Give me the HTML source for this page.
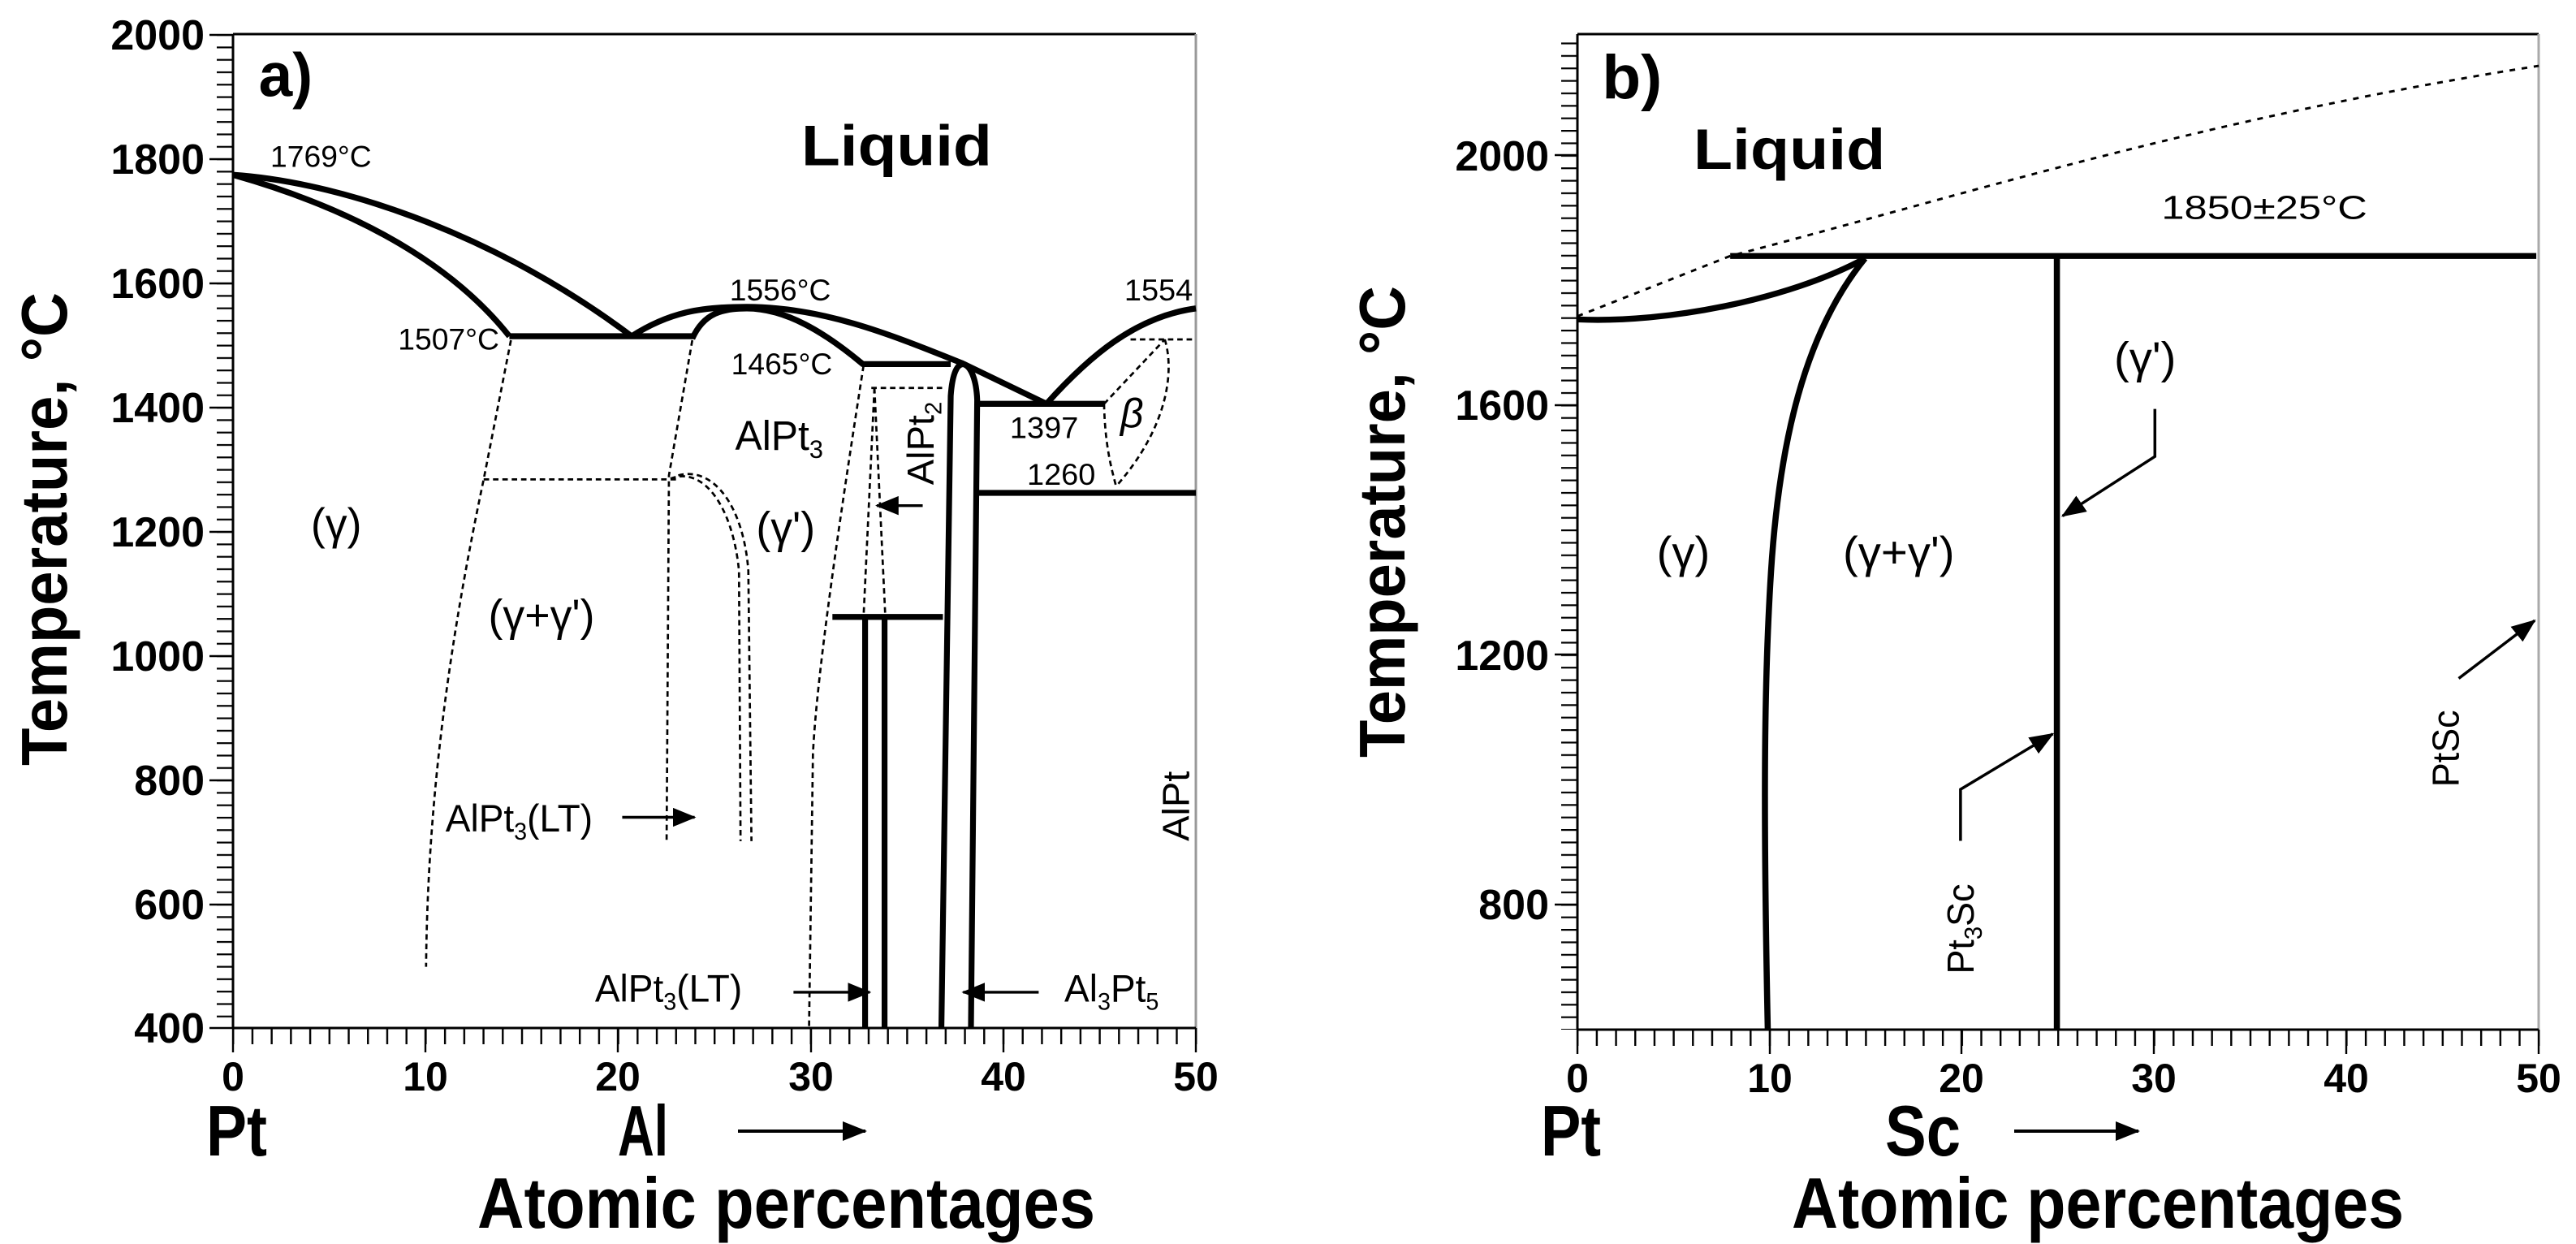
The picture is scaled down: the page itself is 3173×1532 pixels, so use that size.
<!DOCTYPE html>
<html><head><meta charset="utf-8"><style>
html,body{margin:0;padding:0;background:#fff;}
svg{display:block;}
text{font-family:"Liberation Sans",Arial,sans-serif;fill:#000;}
.b{font-weight:bold;}
</style></head><body>
<svg width="3173" height="1532" viewBox="0 0 3173 1532" xmlns="http://www.w3.org/2000/svg">
<defs>
<pattern id="ya" patternUnits="userSpaceOnUse" x="0" y="42" width="40" height="15.3"><rect x="0" y="0" width="40" height="2.2" fill="#000"/></pattern>
<pattern id="xa" patternUnits="userSpaceOnUse" x="286" y="0" width="23.72" height="40"><rect x="0" y="0" width="2.4" height="40" fill="#000"/></pattern>
<pattern id="yb" patternUnits="userSpaceOnUse" x="0" y="1267" width="40" height="15.375"><rect x="0" y="0" width="40" height="2.2" fill="#000"/></pattern>
<pattern id="xb" patternUnits="userSpaceOnUse" x="1942" y="0" width="23.68" height="40"><rect x="0" y="0" width="2.4" height="40" fill="#000"/></pattern>
<marker id="ah" markerUnits="userSpaceOnUse" markerWidth="30" markerHeight="24" refX="28" refY="12" orient="auto"><path d="M0,0 L30,12 L0,24 Z" fill="#000"/></marker>
</defs>

<rect x="267" y="42" width="20" height="1224" fill="url(#ya)"/>
<g stroke="#000" stroke-width="2.4">
<line x1="258" y1="43" x2="287" y2="43"/><line x1="258" y1="196" x2="287" y2="196"/><line x1="258" y1="349" x2="287" y2="349"/><line x1="258" y1="502" x2="287" y2="502"/><line x1="258" y1="655" x2="287" y2="655"/><line x1="258" y1="808" x2="287" y2="808"/><line x1="258" y1="961" x2="287" y2="961"/><line x1="258" y1="1114" x2="287" y2="1114"/><line x1="258" y1="1266" x2="287" y2="1266"/>
</g>
<rect x="287" y="1266" width="1188" height="20" fill="url(#xa)"/>
<g stroke="#000" stroke-width="2.4">
<line x1="287" y1="1266" x2="287" y2="1296"/><line x1="524" y1="1266" x2="524" y2="1296"/><line x1="761" y1="1266" x2="761" y2="1296"/><line x1="999" y1="1266" x2="999" y2="1296"/><line x1="1236" y1="1266" x2="1236" y2="1296"/><line x1="1473" y1="1266" x2="1473" y2="1296"/>
</g>
<line x1="287" y1="42" x2="1473" y2="42" stroke="#000" stroke-width="3"/>
<line x1="1473" y1="42" x2="1473" y2="1266" stroke="#999" stroke-width="3"/>
<line x1="287" y1="42" x2="287" y2="1266" stroke="#000" stroke-width="3"/>
<line x1="287" y1="1266" x2="1473" y2="1266" stroke="#000" stroke-width="3"/>
<g class="b" font-size="52" text-anchor="end">
<text x="252" y="61">2000</text><text x="252" y="214">1800</text><text x="252" y="367">1600</text><text x="252" y="520">1400</text><text x="252" y="673">1200</text><text x="252" y="826">1000</text><text x="252" y="979">800</text><text x="252" y="1132">600</text><text x="252" y="1284">400</text>
</g>
<g class="b" font-size="50" text-anchor="middle">
<text x="287" y="1343">0</text><text x="524" y="1343">10</text><text x="761" y="1343">20</text><text x="999" y="1343">30</text><text x="1236" y="1343">40</text><text x="1473" y="1343">50</text>
</g>
<text x="254" y="1423" font-size="88" font-weight="600" textLength="75" lengthAdjust="spacingAndGlyphs">Pt</text>
<text x="761" y="1423" font-size="88" font-weight="600" textLength="62" lengthAdjust="spacingAndGlyphs">Al</text>
<line x1="909" y1="1393" x2="1066" y2="1393" stroke="#000" stroke-width="4" marker-end="url(#ah)"/>
<text class="b" x="588" y="1512" font-size="88" textLength="761" lengthAdjust="spacingAndGlyphs">Atomic percentages</text>
<text class="b" transform="translate(82,943) rotate(-90)" font-size="80" textLength="583" lengthAdjust="spacingAndGlyphs">Temperature, °C</text>

<g transform="matrix(0.9588,0,0,0.9792,-0.6,-2.06)">
<g fill="none" stroke="#000" stroke-width="7.5" stroke-linejoin="round">
<path d="M300,222 C450,232 650,305 812,425"/>
<path d="M300,222 C430,258 570,320 655,425"/>
<path d="M655,425 L892,425"/>
<path d="M812,425 C860,395 900,388 960,388 C1060,388 1150,425 1237,459 L1345,510"/>
<path d="M890,428 C905,395 930,390 960,390 C1010,390 1060,420 1109,460 L1222,460"/>
<path d="M1210,1295 L1222,500 C1224,472 1230,460 1238,460 C1248,462 1255,480 1256,505 L1248,1295"/>
<path d="M1256,510 L1420,510"/>
<path d="M1256,622 L1537,622"/>
<path d="M1345,510 C1400,450 1460,400 1537,390"/>
<path d="M1070,778 L1212,778"/>
<path d="M1112,778 L1112,1295"/>
<path d="M1137,778 L1137,1295"/>
</g>
<g fill="none" stroke="#000" stroke-width="2.8" stroke-dasharray="7,5">
<path d="M657,430 L622,605 C580,800 550,1000 548,1218"/>
<path d="M622,605 L872,605"/>
<path d="M890,430 L860,600 L857,1060"/>
<path d="M862,604 C905,588 942,640 950,720 L952,1060"/>
<path d="M872,600 C918,588 956,640 962,720 L966,1060"/>
<path d="M1110,462 C1080,650 1050,850 1045,950 L1040,1295"/>
<path d="M1120,490 L1212,490"/>
<path d="M1124,490 L1110,778"/>
<path d="M1124,490 L1138,778"/>
<path d="M1419,510 L1497,429"/>
<path d="M1453,429 L1537,429"/>
<path d="M1419,510 C1420,560 1428,590 1434,612"/>
<path d="M1497,429 C1510,470 1500,540 1436,612"/>
</g>
<g stroke="#000" stroke-width="3.5">
<line x1="800" y1="1030" x2="893" y2="1030" marker-end="url(#ah)"/>
<line x1="1020" y1="1250" x2="1118" y2="1250" marker-end="url(#ah)"/>
<line x1="1335" y1="1250" x2="1238" y2="1250" marker-end="url(#ah)"/>
<line x1="1186" y1="638" x2="1127" y2="638" marker-end="url(#ah)"/>
</g>
<text class="b" x="333" y="123" font-size="78">a)</text>
<text class="b" x="1030" y="210" font-size="72" textLength="245" lengthAdjust="spacingAndGlyphs">Liquid</text>
<g font-size="38">
<text x="348" y="212" textLength="130" lengthAdjust="spacingAndGlyphs">1769°C</text>
<text x="938" y="380" textLength="130" lengthAdjust="spacingAndGlyphs">1556°C</text>
<text x="512" y="442" textLength="130" lengthAdjust="spacingAndGlyphs">1507°C</text>
<text x="940" y="473" textLength="130" lengthAdjust="spacingAndGlyphs">1465°C</text>
<text x="1445" y="380" textLength="88" lengthAdjust="spacingAndGlyphs">1554</text>
<text x="1298" y="553" textLength="88" lengthAdjust="spacingAndGlyphs">1397</text>
<text x="1320" y="612" textLength="88" lengthAdjust="spacingAndGlyphs">1260</text>
</g>
<text x="945" y="568" font-size="52">AlPt<tspan font-size="32" dy="10">3</tspan></text>
<text transform="translate(1200,612) rotate(-90)" font-size="48">AlPt<tspan font-size="30" dy="10">2</tspan></text>
<text x="400" y="680" font-size="56">(γ)</text>
<text x="972" y="685" font-size="56">(γ')</text>
<text x="628" y="795" font-size="56">(γ+γ')</text>
<text x="1440" y="540" font-size="52" font-style="italic">β</text>
<text transform="translate(1528,1060) rotate(-90)" font-size="48">AlPt</text>
<text x="573" y="1048" font-size="48">AlPt<tspan font-size="30" dy="10">3</tspan><tspan dy="-10">(LT)</tspan></text>
<text x="765" y="1262" font-size="48">AlPt<tspan font-size="30" dy="10">3</tspan><tspan dy="-10">(LT)</tspan></text>
<text x="1368" y="1262" font-size="48">Al<tspan font-size="30" dy="10">3</tspan><tspan dy="-10">Pt</tspan><tspan font-size="30" dy="10">5</tspan></text>
</g>

<rect x="1923" y="42" width="20" height="1226" fill="url(#yb)"/>
<rect x="1943" y="1268" width="1186" height="20" fill="url(#xb)"/>
<g stroke="#000" stroke-width="2.4">
<line x1="1915" y1="191" x2="1943" y2="191"/><line x1="1915" y1="499" x2="1943" y2="499"/><line x1="1915" y1="806" x2="1943" y2="806"/><line x1="1915" y1="1114" x2="1943" y2="1114"/>
<line x1="1943" y1="1268" x2="1943" y2="1298"/><line x1="2180" y1="1268" x2="2180" y2="1298"/><line x1="2416" y1="1268" x2="2416" y2="1298"/><line x1="2653" y1="1268" x2="2653" y2="1298"/><line x1="2890" y1="1268" x2="2890" y2="1298"/><line x1="3127" y1="1268" x2="3127" y2="1298"/>
</g>
<line x1="1943" y1="42" x2="3127" y2="42" stroke="#000" stroke-width="3"/>
<line x1="3127" y1="42" x2="3127" y2="1268" stroke="#aaa" stroke-width="3"/>
<line x1="1943" y1="42" x2="1943" y2="1268" stroke="#000" stroke-width="3"/>
<line x1="1943" y1="1268" x2="3127" y2="1268" stroke="#000" stroke-width="3"/>
<g class="b" font-size="52" text-anchor="end">
<text x="1908" y="210">2000</text><text x="1908" y="517">1600</text><text x="1908" y="825">1200</text><text x="1908" y="1132">800</text>
</g>
<g class="b" font-size="50" text-anchor="middle">
<text x="1943" y="1345">0</text><text x="2180" y="1345">10</text><text x="2416" y="1345">20</text><text x="2653" y="1345">30</text><text x="2890" y="1345">40</text><text x="3127" y="1345">50</text>
</g>
<text x="1898" y="1423" font-size="88" font-weight="600" textLength="74" lengthAdjust="spacingAndGlyphs">Pt</text>
<text x="2322" y="1423" font-size="88" font-weight="600" textLength="93" lengthAdjust="spacingAndGlyphs">Sc</text>
<line x1="2481" y1="1393" x2="2634" y2="1393" stroke="#000" stroke-width="4" marker-end="url(#ah)"/>
<text class="b" x="2207" y="1512" font-size="88" textLength="754" lengthAdjust="spacingAndGlyphs">Atomic percentages</text>
<text class="b" transform="translate(1730,933) rotate(-90)" font-size="80" textLength="581" lengthAdjust="spacingAndGlyphs">Temperature, °C</text>

<g transform="matrix(1.006,0,0,0.976,1598,1.0)">
<path d="M343,398 L530,322 C800,250 1100,150 1520,82" fill="none" stroke="#000" stroke-width="3" stroke-dasharray="7,8"/>
<g fill="none" stroke="#000" stroke-width="7.5">
<path d="M530,322 L1517,322"/>
<path d="M343,402 C450,407 600,378 695,325"/>
<path d="M695,325 C620,420 590,560 580,720 C572,850 570,1000 576,1298"/>
<path d="M930,322 L930,1298"/>
</g>
<g fill="none" stroke="#000" stroke-width="3.5">
<path d="M1050,515 L1050,575 L937,650" marker-end="url(#ah)"/>
<path d="M812,1060 L812,995 L925,925" marker-end="url(#ah)"/>
<path d="M1422,855 L1515,782" marker-end="url(#ah)"/>
</g>
<text class="b" x="373" y="123" font-size="78">b)</text>
<text class="b" x="485" y="212" font-size="72" textLength="235" lengthAdjust="spacingAndGlyphs">Liquid</text>
<text x="1058" y="275" font-size="42" textLength="252" lengthAdjust="spacingAndGlyphs">1850±25°C</text>
<text x="1000" y="470" font-size="56">(γ')</text>
<text x="440" y="715" font-size="56">(γ)</text>
<text x="668" y="715" font-size="56">(γ+γ')</text>
<text transform="translate(828,1228) rotate(-90)" font-size="46">Pt<tspan font-size="30" dy="10">3</tspan><tspan dy="-10">Sc</tspan></text>
<text transform="translate(1422,992) rotate(-90)" font-size="46">PtSc</text>
</g>
</svg>
</body></html>
